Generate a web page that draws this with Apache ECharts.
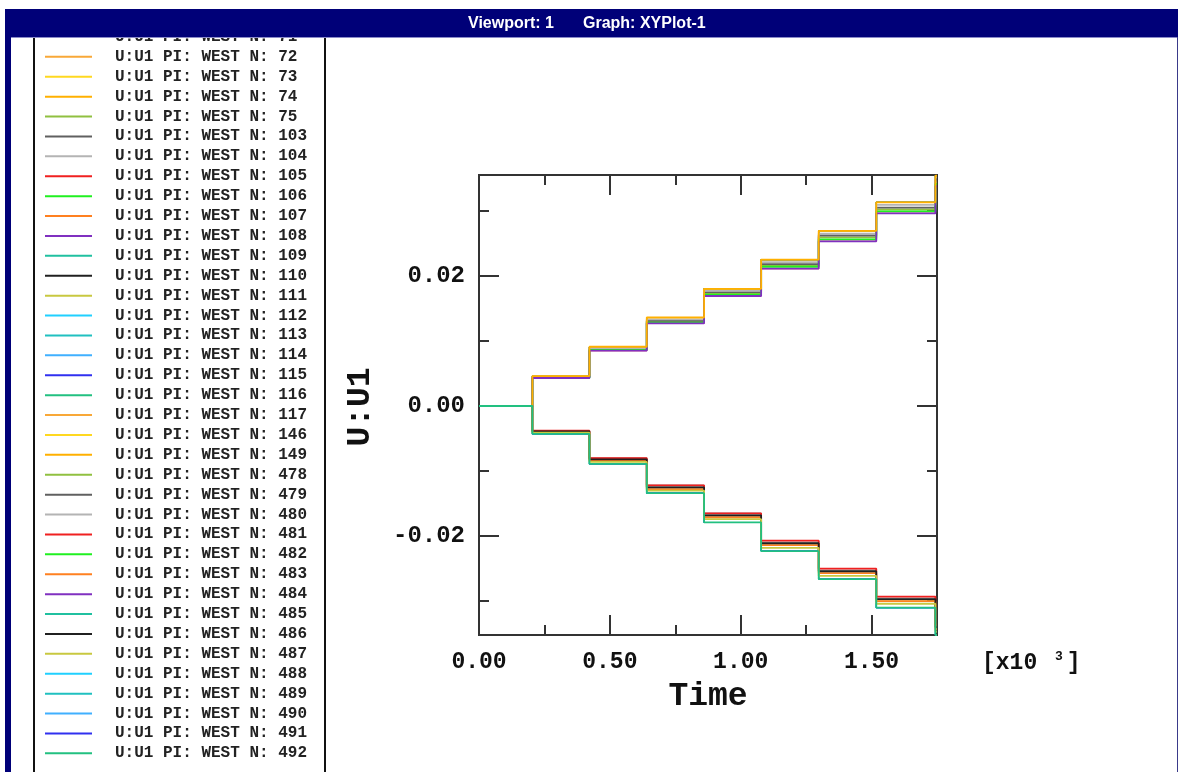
<!DOCTYPE html>
<html>
<head>
<meta charset="utf-8">
<script src="https://cdn.jsdelivr.net/npm/echarts@6/dist/echarts.min.js"></script>
<style>
  html, body { margin: 0; padding: 0; background: #ffffff; }
  #chart { width: 1178px; height: 772px; }
</style>
</head>
<body>
<div id="chart"></div>
<script>
// Step instants of the loading history (time, s)
const stepTimes = [0, 204, 422, 641, 860, 1078, 1298, 1518, 1744, 1750];

// Displacement U1 held after each step, one profile per bundle of nodes
const upA = [0, 0.0046, 0.0091, 0.0136, 0.0180, 0.0225, 0.0269, 0.0313, 0.0354, 0.0354];
const upB = [0, 0.0045, 0.0089, 0.0133, 0.0177, 0.0221, 0.0265, 0.0309, 0.0351, 0.0351];
const upC = [0, 0.0044, 0.0088, 0.0131, 0.0175, 0.0218, 0.0262, 0.0305, 0.0347, 0.0347];
const upD = [0, 0.0044, 0.0087, 0.0130, 0.0173, 0.0216, 0.0259, 0.0302, 0.0344, 0.0344];
const upE = [0, 0.0043, 0.0086, 0.0128, 0.0171, 0.0214, 0.0256, 0.0299, 0.0341, 0.0341];
const upF = [0, 0.0043, 0.0085, 0.0127, 0.0169, 0.0211, 0.0253, 0.0296, 0.0338, 0.0338];
const lowA = [0, -0.0038, -0.0080, -0.0122, -0.0165, -0.0207, -0.0250, -0.0293, -0.0336, -0.0336];
const lowB = [0, -0.0039, -0.0082, -0.0125, -0.0168, -0.0211, -0.0254, -0.0297, -0.0340, -0.0340];
const lowC = [0, -0.0040, -0.0084, -0.0128, -0.0171, -0.0214, -0.0257, -0.0300, -0.0343, -0.0343];
const lowD = [0, -0.0041, -0.0086, -0.0130, -0.0174, -0.0218, -0.0261, -0.0304, -0.0347, -0.0347];
const lowE = [0, -0.0043, -0.0089, -0.0134, -0.0179, -0.0223, -0.0266, -0.0310, -0.0352, -0.0352];

// Nodes of the WEST set, their profile and line colour
const nodeIds = [71, 72, 73, 74, 75, 103, 104, 105, 106, 107, 108, 109, 110, 111, 112, 113, 114, 115, 116, 117, 146, 149,
                 478, 479, 480, 481, 482, 483, 484, 485, 486, 487, 488, 489, 490, 491, 492];
const nodeProfiles = ['upA', 'upA', 'upA', 'upA', 'upD', 'upC', 'upB', 'upF', 'upE', 'upA', 'upF', 'upA', 'upA', 'upA',
                      'upA', 'upA', 'upA', 'upA', 'upA', 'upA', 'upA', 'upA',
                      'lowC', 'lowA', 'lowA', 'lowA', 'lowB', 'lowC', 'lowB', 'lowE', 'lowB', 'lowD', 'lowE', 'lowE',
                      'lowE', 'lowE', 'lowE'];
const colorCycle = ['#22c080', '#f8a838', '#ffd820', '#ffb000', '#90c040', '#606060', '#b4b4b4', '#f02020', '#20f020',
                    '#ff8020', '#8030c0', '#20c0a0', '#202020', '#c8c840', '#20d0ff', '#20c0c0', '#40b0ff', '#3030f0'];

// Axis ticks and labels
const xMajorTicks = [0, 500, 1000, 1500];
const xMinorTicks = [250, 750, 1250];
const yMajorTicks = [-0.02, 0, 0.02];
const yMinorTicks = [-0.03, -0.01, 0.01, 0.03];

const profiles = { upA, upB, upC, upD, upE, upF, lowA, lowB, lowC, lowD, lowE };
const monoFont = 'Liberation Mono';
const axisColor = '#333333';

// the last node of each profile is the one left on top of its bundle
const topOfBundle = nodeProfiles.map((p, i) => nodeProfiles.lastIndexOf(p) === i);

const series = nodeIds.map((id, i) => {
  const values = profiles[nodeProfiles[i]];
  return {
    name: 'U:U1 PI: WEST N: ' + id,
    type: 'line',
    step: 'end',
    showSymbol: false,
    xAxisIndex: 0,
    yAxisIndex: 0,
    z: topOfBundle[i] ? 3 : 2,
    color: colorCycle[i % colorCycle.length],
    lineStyle: { width: topOfBundle[i] ? 1.8 : 1.1 },
    data: stepTimes.map((t, k) => [t, values[k]])
  };
});

function xAxisDef(position, ticks, len, labels) {
  return {
    type: 'value', position: position, min: 0, max: 1750,
    axisLine: { show: true, onZero: false, lineStyle: { color: axisColor, width: 2 } },
    axisTick: { show: true, inside: true, length: len, customValues: ticks, lineStyle: { color: axisColor, width: 2 } },
    axisLabel: labels ? {
      show: true, customValues: labels, margin: 16,
      formatter: v => (v / 1000).toFixed(2),
      fontFamily: monoFont, fontWeight: 'bold', fontSize: 23, color: '#111'
    } : { show: false },
    splitLine: { show: false }
  };
}
function yAxisDef(position, ticks, len, labels) {
  return {
    type: 'value', position: position, min: -0.0352, max: 0.0355,
    axisLine: { show: true, onZero: false, lineStyle: { color: axisColor, width: 2 } },
    axisTick: { show: true, inside: true, length: len, customValues: ticks, lineStyle: { color: axisColor, width: 2 } },
    axisLabel: labels ? {
      show: true, customValues: labels, margin: 14,
      formatter: v => v.toFixed(2),
      fontFamily: monoFont, fontWeight: 'bold', fontSize: 24, color: '#111'
    } : { show: false },
    splitLine: { show: false }
  };
}

const chart = echarts.init(document.getElementById('chart'), null, { renderer: 'canvas' });
chart.setOption({
  animation: false,
  backgroundColor: '#ffffff',
  grid: { left: 479, right: 241, top: 175, bottom: 137, containLabel: false },
  xAxis: [
    xAxisDef('bottom', xMajorTicks, 20, xMajorTicks),
    xAxisDef('bottom', xMinorTicks, 10, null),
    xAxisDef('top', xMajorTicks, 20, null),
    xAxisDef('top', xMinorTicks, 10, null)
  ],
  yAxis: [
    yAxisDef('left', yMajorTicks, 20, yMajorTicks),
    yAxisDef('left', yMinorTicks, 10, null),
    yAxisDef('right', yMajorTicks, 20, null),
    yAxisDef('right', yMinorTicks, 10, null)
  ],
  legend: {
    orient: 'vertical', left: 45, top: 27, padding: 0, itemGap: 0,
    itemWidth: 47, itemHeight: 2, icon: 'rect', selectedMode: false, height: 760,
    textStyle: { fontFamily: monoFont, fontWeight: 'bold', fontSize: 16, color: '#222', lineHeight: 19.9, padding: [0, 0, 0, 18] },
    data: series.map(s => s.name)
  },
  graphic: [
    // legend frame
    { type: 'rect', z: 1, shape: { x: 34, y: 20, width: 291, height: 800 }, style: { fill: 'none', stroke: '#111', lineWidth: 2 } },
    // window frame and title bar
    { type: 'rect', zlevel: 1, shape: { x: 5, y: 9, width: 1173, height: 28 }, style: { fill: '#000078' } },
    { type: 'rect', zlevel: 1, shape: { x: 5, y: 37, width: 1173, height: 1 }, style: { fill: '#8a8ac8' } },
    { type: 'rect', zlevel: 1, shape: { x: 5, y: 37, width: 6, height: 740 }, style: { fill: '#000078' } },
    { type: 'rect', zlevel: 1, shape: { x: 1177, y: 37, width: 1, height: 740 }, style: { fill: '#3a3a8a' } },
    { type: 'text', zlevel: 1, x: 468, y: 24, style: { text: 'Viewport: 1', fill: '#ffffff', font: 'bold 16px "Liberation Sans"', verticalAlign: 'middle' } },
    { type: 'text', zlevel: 1, x: 583, y: 24, style: { text: 'Graph: XYPlot-1', fill: '#ffffff', font: 'bold 16px "Liberation Sans"', verticalAlign: 'middle' } },
    // axis titles
    { type: 'text', x: 708, y: 697, style: { text: 'Time', fill: '#111', font: 'bold 33px "Liberation Mono"', align: 'center', verticalAlign: 'middle' } },
    { type: 'text', x: 361, y: 407, rotation: Math.PI / 2, style: { text: 'U:U1', fill: '#111', font: 'bold 33px "Liberation Mono"', align: 'center', verticalAlign: 'middle' } },
    // axis multiplier
    { type: 'text', x: 982, y: 663, style: {
        text: '[x10 {s|3}]', fill: '#111', font: 'bold 23px "Liberation Mono"', verticalAlign: 'middle',
        rich: { s: { fontFamily: monoFont, fontWeight: 'bold', fontSize: 13, verticalAlign: 'top', padding: [0, 4, 12, 4] } }
    } }
  ],
  series: series
});
</script>
</body>
</html>
